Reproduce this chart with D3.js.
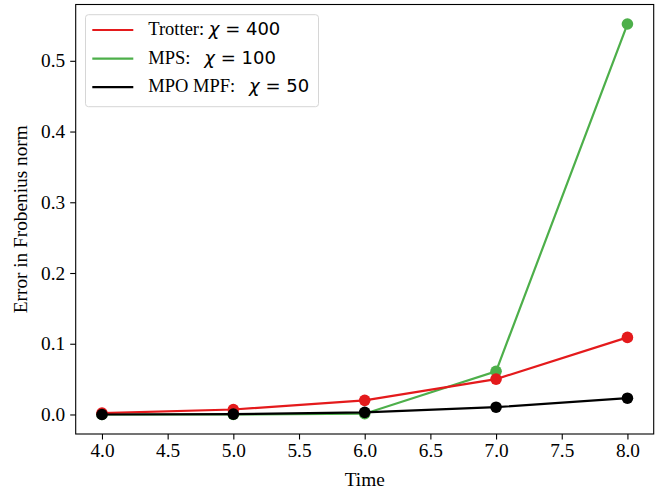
<!DOCTYPE html>
<html>
<head>
<meta charset="utf-8">
<script src="https://cdn.jsdelivr.net/npm/d3@7"></script>
<style>
  body { margin: 0; background: #fff; }
  svg text { font-family: "Liberation Serif", "Times New Roman", serif; }
  svg text tspan.math { font-family: "DejaVu Sans", sans-serif; }
</style>
</head>
<body>
<div id="chart"></div>
<script>
// values
var times = [4, 5, 6, 7, 8]
var trotter = [0.002, 0.007, 0.020, 0.050, 0.109]
var mps = [0.000, 0.000, 0.001, 0.061, 0.552]
var mpoMpf = [0.000, 0.0005, 0.003, 0.0103, 0.023]

var xTicks = [4.0, 4.5, 5.0, 5.5, 6.0, 6.5, 7.0, 7.5, 8.0]
var yTicks = [0.0, 0.1, 0.2, 0.3, 0.4, 0.5]

var seriesNames = ['Trotter:', 'MPS:  ', 'MPO MPF:  ']
var seriesChi = ['400', '100', '50']

var width = 666
var height = 493

var margin = {
  top: 4.5,
  left: 75.7,
  bottom: 59,
  right: 12.3
}

var colors = ['#e41a1c', '#4daf4a', '#000000']

var svg = d3.select('#chart').append('svg')
  .attr('width', width)
  .attr('height', height)

// matplotlib style 5% margins
var xPad = (d3.max(times) - d3.min(times)) * 0.05
var allY = trotter.concat(mps, mpoMpf)
var yPad = (d3.max(allY) - d3.min(allY)) * 0.05

var x = d3.scaleLinear()
  .domain([d3.min(times) - xPad, d3.max(times) + xPad])
  .range([margin.left, width - margin.right])

var y = d3.scaleLinear()
  .domain([d3.min(allY) - yPad, d3.max(allY) + yPad])
  .range([height - margin.bottom, margin.top])

var xAxis = svg.append('g')
  .attr('transform', 'translate(0,' + (height - margin.bottom) + ')')
  .call(d3.axisBottom(x).tickValues(xTicks).tickFormat(d3.format('.1f')).tickSizeOuter(0).tickSize(5.5).tickPadding(4))
xAxis.select('.domain').remove()
xAxis.selectAll('text').attr('font-size', 19.3).attr('fill', '#000')
xAxis.selectAll('line').attr('stroke', '#000').attr('stroke-width', 1.1)

var yAxis = svg.append('g')
  .attr('transform', 'translate(' + margin.left + ',0)')
  .call(d3.axisLeft(y).tickValues(yTicks).tickFormat(d3.format('.1f')).tickSizeOuter(0).tickSize(5.5).tickPadding(5))
yAxis.select('.domain').remove()
yAxis.selectAll('text').attr('font-size', 19.3).attr('fill', '#000')
yAxis.selectAll('line').attr('stroke', '#000').attr('stroke-width', 1.1)

// draw order: green under red, black on top
var order = [1, 0, 2]
var data = [trotter, mps, mpoMpf]

var line = d3.line()
  .x(function (d, i) { return x(times[i]) })
  .y(function (d) { return y(d) })

order.forEach(function (k) {
  svg.append('path')
    .datum(data[k])
    .attr('d', line)
    .attr('fill', 'none')
    .attr('stroke', colors[k])
    .attr('stroke-width', 2.2)
  svg.selectAll(null)
    .data(data[k])
    .enter().append('circle')
    .attr('cx', function (d, i) { return x(times[i]) })
    .attr('cy', function (d) { return y(d) })
    .attr('r', 5.8)
    .attr('fill', colors[k])
})

// frame
svg.append('rect')
  .attr('x', margin.left)
  .attr('y', margin.top)
  .attr('width', width - margin.left - margin.right)
  .attr('height', height - margin.top - margin.bottom)
  .attr('fill', 'none')
  .attr('stroke', '#000')
  .attr('stroke-width', 1.1)

// axis labels
svg.append('text')
  .attr('x', (margin.left + width - margin.right) / 2)
  .attr('y', 486)
  .attr('text-anchor', 'middle')
  .attr('font-size', 19.3)
  .text('Time')

svg.append('text')
  .attr('transform', 'translate(27,' + ((margin.top + height - margin.bottom) / 2) + ') rotate(-90)')
  .attr('text-anchor', 'middle')
  .attr('font-size', 19.3)
  .text('Error in Frobenius norm')

// legend
var legend = svg.append('g')

legend.append('rect')
  .attr('x', 85.5)
  .attr('y', 14.7)
  .attr('width', 233)
  .attr('height', 92)
  .attr('rx', 3)
  .attr('fill', '#fff')
  .attr('fill-opacity', 0.8)
  .attr('stroke', '#d6d6d6')
  .attr('stroke-width', 1)

seriesNames.forEach(function (name, i) {
  var ry = 30 + i * 28.6
  legend.append('line')
    .attr('x1', 92.3)
    .attr('x2', 133.3)
    .attr('y1', ry)
    .attr('y2', ry)
    .attr('stroke', colors[i])
    .attr('stroke-width', 2.2)
  var t = legend.append('text')
    .attr('x', 148.3)
    .attr('y', ry + 5.2)
    .attr('font-size', 18.5)
    .style('white-space', 'pre')
  t.append('tspan').text(name + ' ')
  t.append('tspan').attr('class', 'math').attr('font-style', 'italic').attr('font-size', 18).text('χ')
  t.append('tspan').attr('class', 'math').attr('font-size', 18).text(' = ' + seriesChi[i])
})
</script>
</body>
</html>
